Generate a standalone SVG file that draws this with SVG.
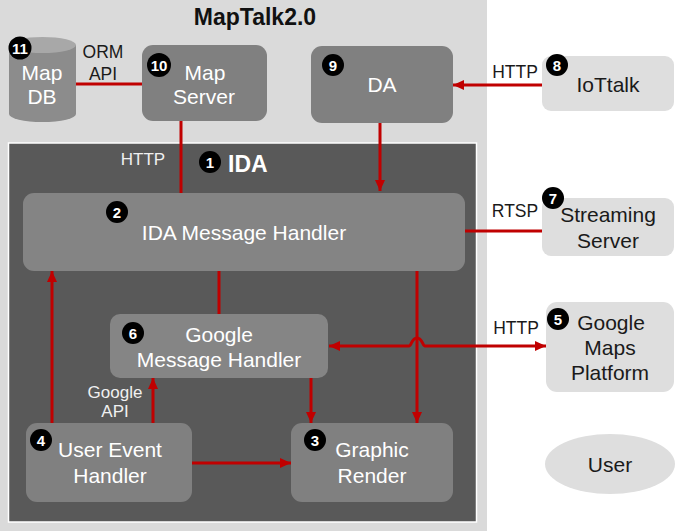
<svg xmlns="http://www.w3.org/2000/svg" width="679" height="531" viewBox="0 0 679 531">
<style>
.node{fill:#808080}
.ext{fill:#dedede}
.wt{font-family:"Liberation Sans",Arial,sans-serif;font-size:21px;fill:#ffffff;text-anchor:middle}
.dt{font-family:"Liberation Sans",Arial,sans-serif;font-size:21px;fill:#1a1a1a;text-anchor:middle}
.lbl{font-family:"Liberation Sans",Arial,sans-serif;font-size:17.5px;fill:#1a1a1a;text-anchor:middle}
.lblw{font-family:"Liberation Sans",Arial,sans-serif;font-size:17px;fill:#f0f0f0;text-anchor:middle}
.bc{fill:#000000}
.bt{font-family:"Liberation Sans",Arial,sans-serif;font-size:15px;font-weight:bold;fill:#ffffff;text-anchor:middle}
.ln{stroke:#c00000;stroke-width:3;fill:none}
</style>
<defs>
<marker id="ah" markerUnits="userSpaceOnUse" markerWidth="12" markerHeight="12" refX="11" refY="6" orient="auto-start-reverse">
<path d="M0,1 L11,6 L0,11 Z" fill="#c00000"/>
</marker>
</defs>
<rect x="0" y="0" width="487" height="531" fill="#dadada"/>
<text x="255" y="25" font-family="Liberation Sans,Arial,sans-serif" font-size="23" font-weight="bold" fill="#111" text-anchor="middle">MapTalk2.0</text>
<g id="ida">
<rect x="8.5" y="143" width="468" height="379" fill="#595959" stroke="#ffffff" stroke-width="1.5"/>
<circle class="bc" cx="210" cy="162" r="11"/><text class="bt" x="210" y="167.5">1</text>
<text x="228" y="172" font-family="Liberation Sans,Arial,sans-serif" font-size="23" font-weight="bold" fill="#ffffff">IDA</text>
</g>
<g id="connectors">
<path class="ln" d="M76,84 H142"/>
<path class="ln" d="M181,121 V193"/>
<path class="ln" d="M542,85 H453" marker-end="url(#ah)"/>
<path class="ln" d="M380,123 V191" marker-end="url(#ah)"/>
<path class="ln" d="M465,231 H542"/>
<path class="ln" d="M219,271 V314"/>
<path class="ln" d="M417,271 V423" marker-end="url(#ah)"/>
<path class="ln" d="M311,378 V423" marker-end="url(#ah)"/>
<path class="ln" d="M192,463 H291" marker-end="url(#ah)"/>
<path class="ln" d="M52,423 V271" marker-end="url(#ah)"/>
<path class="ln" d="M153,423 V378" marker-end="url(#ah)"/>
<path class="ln" d="M329,346 H409 C411.5,346 411.5,338 417,338 C422.5,338 422.5,346 425,346 H546" marker-start="url(#ah)" marker-end="url(#ah)"/>
<text class="lbl" x="103" y="58">ORM</text>
<text class="lbl" x="103" y="80">API</text>
<text class="lblw" x="143" y="165">HTTP</text>
<text class="lbl" x="515" y="78">HTTP</text>
<text class="lbl" x="515" y="217">RTSP</text>
<text class="lbl" x="516" y="334">HTTP</text>
<text class="lblw" x="115" y="398" font-size="16">Google</text>
<text class="lblw" x="115" y="417" font-size="16">API</text>
</g>
<g id="mapdb">
<path d="M9,45 V114 A33.5,8 0 0 0 76,114 V45 Z" fill="#8c8c8c"/>
<ellipse cx="42.5" cy="45" rx="33.5" ry="8" fill="#a8a8a8"/>
<text class="wt" x="42" y="80">Map</text>
<text class="wt" x="42" y="104">DB</text>
<circle class="bc" cx="20" cy="48" r="11.5"/><text class="bt" x="20" y="53.5" font-size="14.5">11</text>
</g>
<g id="mapserver">
<rect class="node" x="142" y="45" width="125" height="76" rx="11"/>
<text class="wt" x="205" y="80">Map</text>
<text class="wt" x="204" y="104">Server</text>
<circle class="bc" cx="159" cy="65" r="12"/><text class="bt" x="159" y="70.5" font-size="14.5">10</text>
</g>
<g id="da">
<rect class="node" x="311" y="46" width="142" height="77" rx="11"/>
<text class="wt" x="382" y="92">DA</text>
<circle class="bc" cx="333" cy="65" r="11"/><text class="bt" x="333" y="70.5">9</text>
</g>
<g id="iottalk">
<rect class="ext" x="542" y="56" width="132" height="55" rx="9"/>
<text class="dt" x="608" y="92">IoTtalk</text>
<circle class="bc" cx="557" cy="65" r="11"/><text class="bt" x="557" y="70.5">8</text>
</g>
<g id="idamsg">
<rect x="23" y="193" width="442" height="78" rx="11" fill="#848484"/>
<text class="wt" x="244" y="240">IDA Message Handler</text>
<circle class="bc" cx="117" cy="212" r="11"/><text class="bt" x="117" y="217.5">2</text>
</g>
<g id="streaming">
<rect class="ext" x="542" y="198" width="132" height="58" rx="9"/>
<text class="dt" x="608" y="222">Streaming</text>
<text class="dt" x="608" y="248">Server</text>
<circle class="bc" cx="553" cy="198" r="11"/><text class="bt" x="553" y="203.5">7</text>
</g>
<g id="googlemaps">
<rect class="ext" x="546" y="302" width="128" height="90" rx="11"/>
<text class="dt" x="611" y="330">Google</text>
<text class="dt" x="610" y="355">Maps</text>
<text class="dt" x="610" y="380">Platform</text>
<circle class="bc" cx="558" cy="319" r="11"/><text class="bt" x="558" y="324.5">5</text>
</g>
<g id="googlemsg">
<rect x="110" y="314" width="218" height="64" rx="10" fill="#858585"/>
<text class="wt" x="219" y="342">Google</text>
<text class="wt" x="219" y="367">Message Handler</text>
<circle class="bc" cx="133" cy="333" r="11"/><text class="bt" x="133" y="338.5">6</text>
</g>
<g id="userevent">
<rect class="node" x="26" y="423" width="166" height="79" rx="11"/>
<text class="wt" x="110" y="457">User Event</text>
<text class="wt" x="110" y="483">Handler</text>
<circle class="bc" cx="41" cy="440" r="11"/><text class="bt" x="41" y="445.5">4</text>
</g>
<g id="graphic">
<rect class="node" x="291" y="423" width="162" height="79" rx="11"/>
<text class="wt" x="372" y="457">Graphic</text>
<text class="wt" x="372" y="483">Render</text>
<circle class="bc" cx="315" cy="440" r="11"/><text class="bt" x="315" y="445.5">3</text>
</g>
<g id="user">
<ellipse class="ext" cx="610" cy="464" rx="65" ry="30"/>
<text class="dt" x="610" y="472">User</text>
</g>
</svg>
